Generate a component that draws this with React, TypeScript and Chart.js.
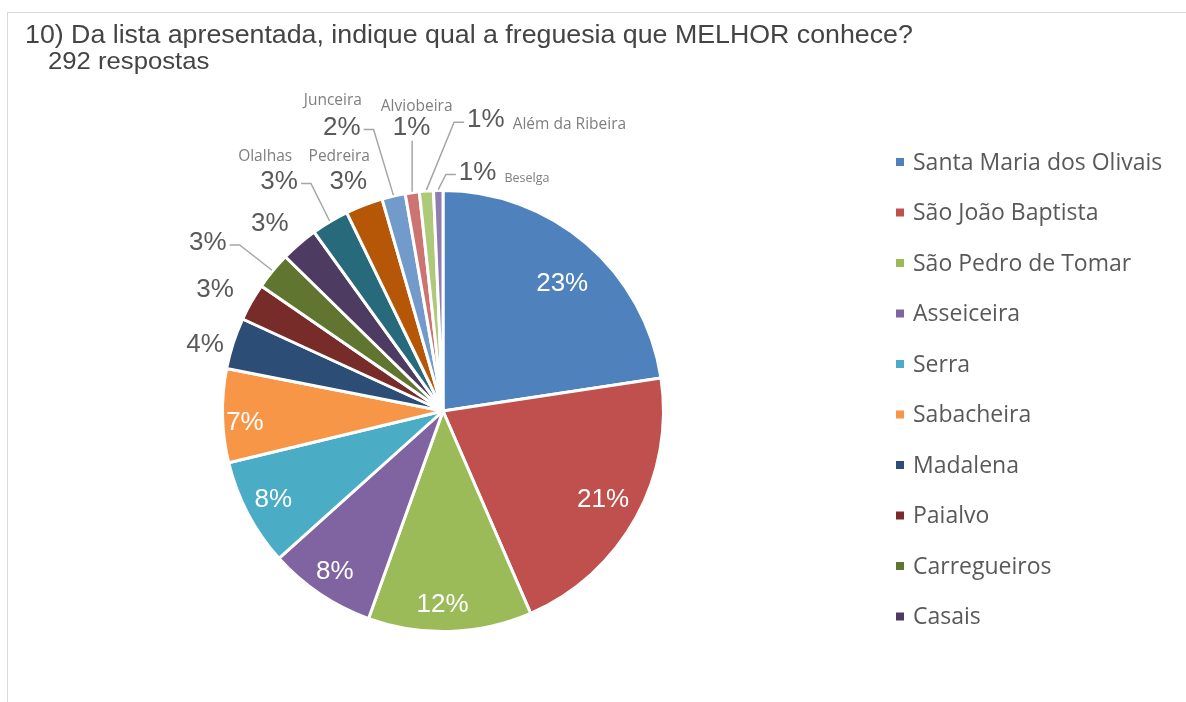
import React, { useEffect, useRef } from "react";
import { Chart, registerables } from "chart.js";
Chart.register(...registerables);

const titleText = "10) Da lista apresentada, indique qual a freguesia que MELHOR conhece?";
const subtitleText = "292 respostas";

const categories = [
  "Santa Maria dos Olivais",
  "São João Baptista",
  "São Pedro de Tomar",
  "Asseiceira",
  "Serra",
  "Sabacheira",
  "Madalena",
  "Paialvo",
  "Carregueiros",
  "Casais",
  "Olalhas",
  "Pedreira",
  "Junceira",
  "Alviobeira",
  "Além da Ribeira",
  "Beselga",
];
const responses = [66, 61, 35, 23, 23, 20, 11, 8, 8, 8, 8, 8, 5, 3, 3, 2];
const sliceColors = [
  "#4F81BD", "#C0504D", "#9BBB59", "#8064A2", "#4BACC6", "#F79646",
  "#2C4D75", "#772C2A", "#5F7530", "#4D3B62", "#276A7C", "#B65708",
  "#729ACA", "#CD7371", "#AFC97A", "#8F7CB0",
];
const legendCount = 10;

// label placement (styling only): inside labels use a radius fraction,
// outside labels use an angle shift (deg) and distance (px) from the pie centre
type Place = {
  inside?: number; da?: number; d?: number; leader?: boolean;
  name?: "above" | "right"; nx?: number; ny?: number; nameSize?: number;
};
const labelPlacement: Place[] = [
  { inside: 0.79, da: 2.5 }, { inside: 0.83 }, { inside: 0.88, da: 2 }, { inside: 0.88 }, { inside: 0.87 }, { inside: 0.9, da: -2.3 },
  { da: -2.4, d: 247 },
  { da: -1.7, d: 258 },
  { da: -3.9, d: 289, leader: true },
  { da: -2.1, d: 255 },
  { da: -4.7, d: 282, leader: true, name: "above", nx: -14, ny: -25 },
  { da: -1.5, d: 248, name: "above", nx: -9, ny: -25 },
  { da: -6.7, d: 301, leader: true, name: "above", nx: -9, ny: -27 },
  { da: 1.7, d: 285, leader: true, name: "above", nx: 5, ny: -21 },
  { da: 12.7, d: 294, leader: true, name: "right", nameSize: 15.5 },
  { da: 9.5, d: 241, leader: true, name: "right", nameSize: 12.5 },
];

const labelPlugin = {
  id: "pieLabels",
  afterDatasetsDraw(chart: any) {
    const ctx = chart.ctx;
    const meta = chart.getDatasetMeta(0);
    const data = chart.data.datasets[0].data as number[];
    const total = data.reduce((a: number, b: number) => a + b, 0);
    ctx.save();
    meta.data.forEach((arc: any, i: number) => {
      const p = labelPlacement[i];
      const { x: cx, y: cy, startAngle, endAngle, outerRadius: R } = arc.getProps(
        ["x", "y", "startAngle", "endAngle", "outerRadius"], true
      );
      const mid = (startAngle + endAngle) / 2;
      const ang = mid + ((p.da || 0) * Math.PI) / 180;
      const pct = Math.round((data[i] / total) * 100) + "%";
      ctx.font = "26px 'Liberation Sans', Arial, sans-serif";
      ctx.textAlign = "center";
      ctx.textBaseline = "middle";
      if (p.inside !== undefined) {
        const r = R * p.inside;
        ctx.fillStyle = "#ffffff";
        ctx.fillText(pct, cx + r * Math.cos(ang), cy + r * Math.sin(ang));
        return;
      }
      const lx = cx + (p.d || 0) * Math.cos(ang);
      const ly = cy + (p.d || 0) * Math.sin(ang);
      const w = ctx.measureText(pct).width;
      ctx.fillStyle = "#595959";
      ctx.fillText(pct, lx, ly);
      if (p.leader) {
        const px = cx + (R + 1) * Math.cos(mid);
        const py = cy + (R + 1) * Math.sin(mid);
        ctx.strokeStyle = "#a6a6a6";
        ctx.lineWidth = 1.5;
        ctx.beginPath();
        if (Math.abs(px - lx) < w / 2) {
          ctx.moveTo(px, ly + 13);
          ctx.lineTo(px, py);
        } else if (px > lx) {
          ctx.moveTo(lx + w / 2 + 3, ly + 2);
          ctx.lineTo(lx + w / 2 + 13, ly + 2);
          ctx.lineTo(px, py);
        } else {
          ctx.moveTo(lx - w / 2 - 3, ly + 2);
          ctx.lineTo(lx - w / 2 - 13, ly + 2);
          ctx.lineTo(px, py);
        }
        ctx.stroke();
      }
      if (p.name) {
        const name = chart.data.labels[i];
        ctx.fillStyle = "#7f7f7f";
        ctx.font = `${p.nameSize || 15.5}px 'Open Sans', sans-serif`;
        if (p.name === "above") {
          ctx.textAlign = "center";
          ctx.textBaseline = "middle";
          ctx.fillText(name, lx + (p.nx || 0), ly + (p.ny || 0));
        } else {
          ctx.textAlign = "left";
          ctx.textBaseline = "alphabetic";
          ctx.fillText(name, lx + w / 2 + 8, ly + 9);
        }
      }
    });
    ctx.restore();
  },
};

const legendPlugin = {
  id: "sideLegend",
  afterDraw(chart: any) {
    const ctx = chart.ctx;
    const labels = chart.data.labels as string[];
    const colors = chart.data.datasets[0].backgroundColor as string[];
    ctx.save();
    ctx.font = "23px 'Open Sans', sans-serif";
    ctx.textAlign = "left";
    ctx.textBaseline = "middle";
    for (let i = 0; i < legendCount; i++) {
      const y = 162 + i * 50.5;
      ctx.fillStyle = colors[i];
      ctx.fillRect(896, y - 4, 8, 8);
      ctx.fillStyle = "#595959";
      ctx.fillText(labels[i], 913, y + 1);
    }
    ctx.restore();
  },
};

export default function App() {
  const ref = useRef<HTMLCanvasElement>(null);
  useEffect(() => {
    if (!ref.current) return;
    const chart = new Chart(ref.current, {
      type: "pie",
      data: {
        labels: categories,
        datasets: [
          {
            data: responses,
            backgroundColor: sliceColors,
            borderColor: "#ffffff",
            borderWidth: 3,
          },
        ],
      },
      options: {
        animation: false,
        responsive: false,
        devicePixelRatio: 1,
        layout: { padding: { left: 221, top: 189, right: 521, bottom: 69 } },
        plugins: {
          legend: { display: false },
          tooltip: { enabled: false },
          title: { display: false },
        },
      },
      plugins: [labelPlugin, legendPlugin],
    });
    return () => chart.destroy();
  }, []);

  const titleStyle: React.CSSProperties = {
    position: "absolute",
    whiteSpace: "nowrap",
    color: "#444",
    transformOrigin: "left top",
  };

  return (
    <div style={{ position: "absolute", left: 0, top: 0, width: 1186, height: 702, background: "#fff", overflow: "hidden" }}>
      <div style={{ position: "absolute", left: 7, top: 12, width: 1179, height: 690, borderTop: "1px solid #d9d9d9", borderLeft: "1px solid #d9d9d9" }} />
      <canvas ref={ref} width={1186} height={702} style={{ position: "absolute", left: 0, top: 0 }} />
      <div style={{ ...titleStyle, left: 25, top: 20, font: "25px 'Liberation Sans', Arial, sans-serif", lineHeight: "29px", transform: "scaleX(1.07)" }}>
        {titleText}
      </div>
      <div style={{ ...titleStyle, left: 48, top: 47, font: "24px 'Liberation Sans', Arial, sans-serif", lineHeight: "28px", transform: "scaleX(1.07)" }}>
        {subtitleText}
      </div>
    </div>
  );
}
